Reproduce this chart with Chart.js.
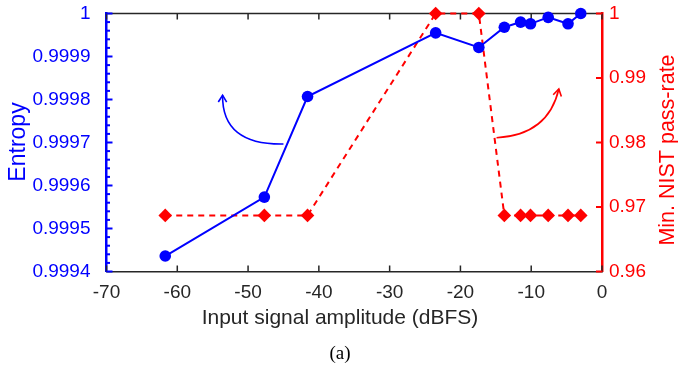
<!DOCTYPE html>
<html>
<head>
<meta charset="utf-8">
<script src="https://cdn.jsdelivr.net/npm/chart.js@4.4.1/dist/chart.umd.min.js"></script>
<style>
  html, body { margin: 0; padding: 0; background: #fff; }
  #wrap { width: 678px; height: 370px; }
</style>
</head>
<body>
<div id="wrap"><canvas id="chart" width="678" height="370"></canvas></div>
<script>
// input amplitude (dBFS), shared by both series
const amplitude = [-61.7, -47.7, -41.6, -23.5, -17.4, -13.8, -11.5, -10.1, -7.6, -4.8, -3.0];
const entropy = [0.999436, 0.999573, 0.999807, 0.999955, 0.999921, 0.999968, 0.99998, 0.999976, 0.999991, 0.999976, 1.0];
const passRate = [0.9687, 0.9687, 0.9687, 1.0, 1.0, 0.9687, 0.9687, 0.9687, 0.9687, 0.9687, 0.9687];

// curved arrows, in data coords: [start, control, tip]
const blueArrow = [[-45.0, 0.9996965], [-53.7, 0.999694], [-53.6, 0.99981]];   // entropy axis
const redArrow = [[-14.9, 0.98074], [-7.6, 0.98116], [-6.1, 0.98829]];          // pass-rate axis

const BLUE = '#0000ff';
const RED = '#ff0000';
const INK = '#262626';

Chart.defaults.font.family = "'Liberation Sans', Arial, sans-serif";

const decorations = {
    id: 'decorations',
    beforeDatasetsDraw(chart) {
        const { ctx, chartArea: a, scales } = chart;
        ctx.save();
        // top frame
        ctx.strokeStyle = INK;
        ctx.lineWidth = 1.5;
        ctx.beginPath();
        ctx.moveTo(a.left, a.top);
        ctx.lineTo(a.right, a.top);
        ctx.stroke();

        // x ticks, inward on bottom and top
        ctx.lineWidth = 1.5;
        scales.x.ticks.forEach(t => {
            const px = scales.x.getPixelForValue(t.value);
            ctx.beginPath();
            ctx.moveTo(px, a.bottom); ctx.lineTo(px, a.bottom - 6);
            ctx.moveTo(px, a.top); ctx.lineTo(px, a.top + 6);
            ctx.stroke();
        });

        // left axis: majors + 4 minors
        const y = scales.y;
        ctx.strokeStyle = BLUE;
        ctx.lineWidth = 2;
        const step = 0.0001;
        for (let i = 0; i <= 30; i++) {
            const v = y.min + i * step / 5;
            const py = y.getPixelForValue(v);
            const len = i % 5 === 0 ? 6 : 3.5;
            ctx.beginPath();
            ctx.moveTo(a.left, py); ctx.lineTo(a.left + len, py);
            ctx.stroke();
        }

        // right axis majors
        ctx.strokeStyle = RED;
        scales.y2.ticks.forEach(t => {
            const py = scales.y2.getPixelForValue(t.value);
            ctx.beginPath();
            ctx.moveTo(a.right, py); ctx.lineTo(a.right - 6, py);
            ctx.stroke();
        });

        // arrows
        drawArrow(ctx, blueArrow, scales.x, scales.y, BLUE);
        drawArrow(ctx, redArrow, scales.x, scales.y2, RED);
        ctx.restore();
    },
    afterDraw(chart) {
        const { ctx } = chart;
        ctx.save();
        ctx.textAlign = 'center';
        ctx.textBaseline = 'middle';

        ctx.fillStyle = INK;
        ctx.font = "21px 'Liberation Sans', Arial, sans-serif";
        ctx.fillText('Input signal amplitude (dBFS)', 340, 318);

        ctx.font = "19px 'Liberation Serif', 'Times New Roman', serif";
        ctx.fillStyle = '#000';
        ctx.fillText('(a)', 340, 354);

        ctx.font = "23px 'Liberation Sans', Arial, sans-serif";
        ctx.fillStyle = BLUE;
        ctx.translate(19, 142);
        ctx.rotate(-Math.PI / 2);
        ctx.fillText('Entropy', 0, 0);
        ctx.setTransform(1, 0, 0, 1, 0, 0);

        ctx.font = "21.5px 'Liberation Sans', Arial, sans-serif";
        ctx.fillStyle = RED;
        ctx.translate(668, 150);
        ctx.rotate(-Math.PI / 2);
        ctx.fillText('Min. NIST pass-rate', 0, 0);
        ctx.restore();
    }
};

function drawArrow(ctx, pts, xs, ys, color) {
    const p = pts.map(([vx, vy]) => [xs.getPixelForValue(vx), ys.getPixelForValue(vy)]);
    ctx.strokeStyle = color;
    ctx.lineWidth = 1.6;
    ctx.beginPath();
    ctx.moveTo(p[0][0], p[0][1]);
    ctx.quadraticCurveTo(p[1][0], p[1][1], p[2][0], p[2][1]);
    ctx.stroke();
    const ang = Math.atan2(p[2][1] - p[1][1], p[2][0] - p[1][0]);
    const head = 8;
    ctx.beginPath();
    ctx.moveTo(p[2][0] - head * Math.cos(ang - 0.55), p[2][1] - head * Math.sin(ang - 0.55));
    ctx.lineTo(p[2][0], p[2][1]);
    ctx.lineTo(p[2][0] - head * Math.cos(ang + 0.55), p[2][1] - head * Math.sin(ang + 0.55));
    ctx.stroke();
}

// fixed box sizes so the plot area lands where the reference has it
const fitY = w => s => { s.width = w; s.paddingTop = 13.5; s.paddingBottom = 0; };

const ctx = document.getElementById('chart').getContext('2d');
new Chart(ctx, {
    type: 'line',
    data: {
        datasets: [{
            label: 'Entropy',
            data: amplitude.map((x, i) => ({ x, y: entropy[i] })),
            yAxisID: 'y',
            borderColor: BLUE,
            backgroundColor: BLUE,
            borderWidth: 2,
            pointStyle: 'circle',
            pointRadius: 5.8,
            pointBorderWidth: 0,
            clip: false
        }, {
            label: 'Min. NIST pass-rate',
            data: amplitude.map((x, i) => ({ x, y: passRate[i] })),
            yAxisID: 'y2',
            borderColor: RED,
            backgroundColor: RED,
            borderWidth: 2,
            borderDash: [6, 5],
            pointStyle: 'rectRot',
            pointRadius: 6.8,
            pointBorderWidth: 0,
            clip: false
        }]
    },
    options: {
        responsive: false,
        animation: false,
        events: [],
        layout: { padding: 0 },
        plugins: { legend: { display: false }, tooltip: { enabled: false } },
        scales: {
            x: {
                type: 'linear',
                min: -70, max: 0,
                grid: { display: false, drawTicks: false },
                border: { color: INK, width: 1.5 },
                ticks: { stepSize: 10, color: INK, padding: 10, font: { size: 19 } },
                afterFit: s => { s.height = 98.5; }
            },
            y: {
                position: 'left',
                min: 0.9994, max: 1,
                grid: { display: false, drawTicks: false },
                border: { color: BLUE, width: 2.5 },
                ticks: {
                    stepSize: 0.0001, color: BLUE, padding: 16, font: { size: 19 },
                    callback: v => parseFloat(v.toFixed(4)).toString()
                },
                afterFit: fitY(106.5)
            },
            y2: {
                position: 'right',
                min: 0.96, max: 1,
                grid: { display: false, drawTicks: false },
                border: { color: RED, width: 2.5 },
                ticks: {
                    stepSize: 0.01, color: RED, padding: 7, font: { size: 19 },
                    callback: v => parseFloat(v.toFixed(2)).toString()
                },
                afterFit: fitY(76)
            }
        }
    },
    plugins: [decorations]
});
</script>
</body>
</html>
